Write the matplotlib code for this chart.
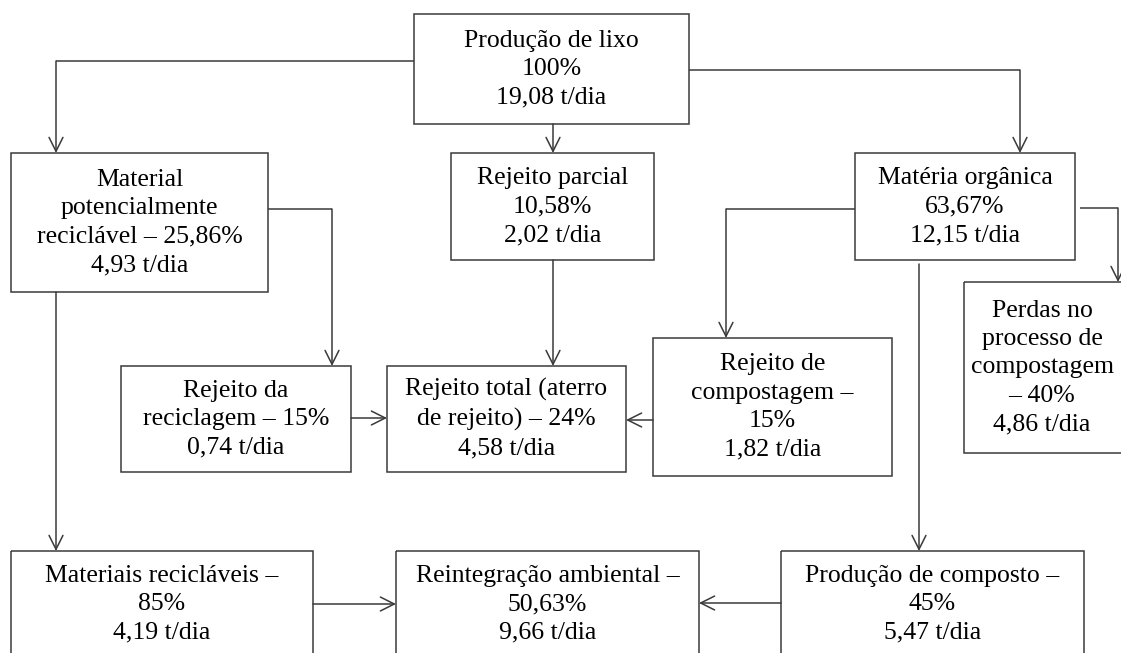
import matplotlib
matplotlib.use('Agg')
import matplotlib.pyplot as plt
from matplotlib.patches import Rectangle

# --- DATA: flow of municipal waste (t/dia) ---
node_names = ['Produção de lixo', 'Material\npotencialmente\nreciclável', 'Rejeito parcial',
              'Matéria orgânica', 'Perdas no\nprocesso de\ncompostagem', 'Rejeito da\nreciclagem',
              'Rejeito total (aterro\nde rejeito)', 'Rejeito de\ncompostagem',
              'Materiais recicláveis', 'Reintegração ambiental', 'Produção de composto']
node_pcts = ['100%', '25,86%', '10,58%', '63,67%', '40%', '15%', '24%', '15%', '85%', '50,63%', '45%']
node_tons = ['19,08', '4,93', '2,02', '12,15', '4,86', '0,74', '4,58', '1,82', '4,19', '9,66', '5,47']
# how the percentage joins the name: 'nl' own line, 'dash' same line after a dash,
# 'dashnl' dash at end of name, percentage on next line
pct_join = ['nl', 'dash', 'nl', 'nl', 'dashnl0', 'dash', 'dash', 'dashnl', 'dashnl', 'dashnl', 'dashnl']

edges = [(0, 1), (0, 2), (0, 3), (1, 5), (1, 8), (2, 6), (3, 7), (3, 4), (3, 10),
         (5, 6), (7, 6), (8, 9), (10, 9)]

# --- LAYOUT (pixels, y down) ---
boxes = [(414, 14, 689, 124), (11, 153, 268, 292), (451, 153, 654, 260), (855, 153, 1075, 260),
         (964, 282, 1124, 453), (121, 366, 351, 472), (387, 366, 626, 472), (653, 338, 892, 476),
         (11, 551, 313, 700), (396, 551, 699, 700), (781, 551, 1084, 700)]
text_y = [None] * 8 + [604, 604, 604]
text_x = [None] * 4 + [1042] + [None] * 6

routes = {
    (0, 1): [(414, 61), (56, 61), (56, 153)],
    (0, 2): [(553, 124), (553, 153)],
    (0, 3): [(689, 70), (1020, 70), (1020, 153)],
    (1, 5): [(268, 209), (332, 209), (332, 366)],
    (1, 8): [(56, 292), (56, 551)],
    (2, 6): [(553, 260), (553, 366)],
    (3, 7): [(855, 209), (726, 209), (726, 338)],
    (3, 4): [(1080, 208), (1118, 208), (1118, 282)],
    (3, 10): [(919, 264), (919, 551)],
    (5, 6): [(351, 418), (387, 418)],
    (7, 6): [(653, 420), (626, 420)],
    (8, 9): [(313, 604), (396, 604)],
    (10, 9): [(781, 603), (699, 603)],
}

LINE = '#3a3a3a'
W, H = 1121, 653

fig = plt.figure(figsize=(W / 100, H / 100), dpi=100)
ax = fig.add_axes([0, 0, 1, 1])
ax.set_xlim(0, W)
ax.set_ylim(H, 0)
ax.axis('off')


def node_label(i):
    name, pct, ton = node_names[i], node_pcts[i], node_tons[i]
    j = pct_join[i]
    if j == 'nl':
        head = name + '\n' + pct
    elif j == 'dash':
        head = name + ' – ' + pct
    elif j == 'dashnl0':
        head = name + '\n– ' + pct
    else:
        head = name + ' –\n' + pct
    return head + '\n' + ton + ' t/dia'


for i, (x0, y0, x1, y1) in enumerate(boxes):
    ax.add_patch(Rectangle((x0, y0), x1 - x0, y1 - y0, fill=False, ec=LINE, lw=1.1,
                           clip_on=True))
    cx = text_x[i] if text_x[i] is not None else (x0 + x1) / 2
    cy = text_y[i] if text_y[i] is not None else (y0 + y1) / 2
    ax.text(cx, cy, node_label(i), ha='center', va='center', multialignment='center',
            family=['Liberation Serif', 'DejaVu Serif'], fontsize=18.5, linespacing=1.38,
            color='#000000')

for e in edges:
    pts = routes[e]
    for a, b in zip(pts[:-2], pts[1:-1]):
        ax.plot([a[0], b[0]], [a[1], b[1]], color=LINE, lw=1.1, solid_capstyle='butt')
    ax.annotate('', xy=pts[-1], xytext=pts[-2],
                arrowprops=dict(arrowstyle='->,head_length=0.5,head_width=0.25', color=LINE,
                                lw=1.1, shrinkA=0, shrinkB=0, mutation_scale=20))

fig.savefig('out.png', dpi=100, facecolor='white')
